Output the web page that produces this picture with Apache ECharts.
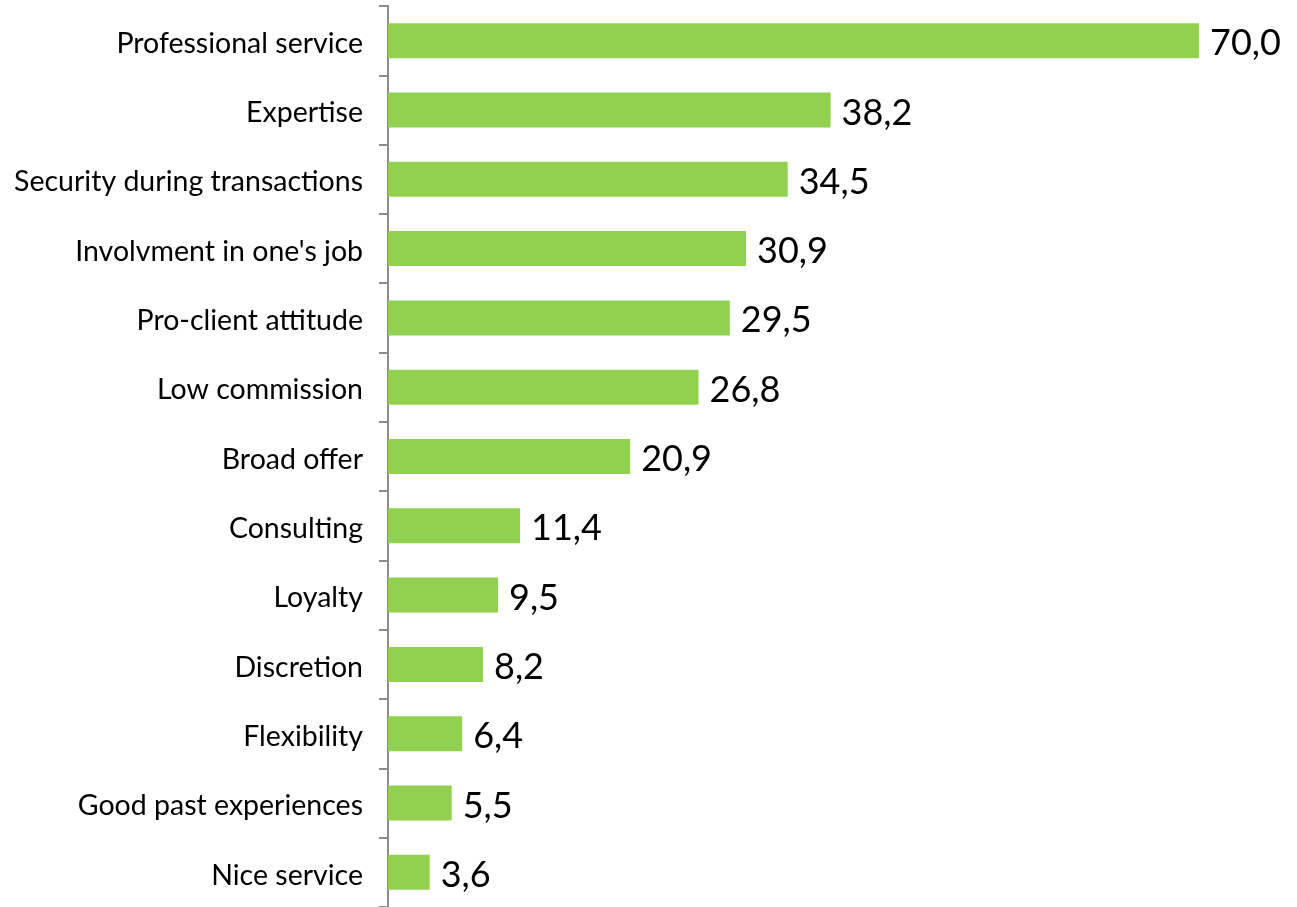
<!DOCTYPE html>
<html>
<head>
<meta charset="utf-8">
<style>
  html, body { margin: 0; padding: 0; background: #ffffff; }
  #chart { width: 1297px; height: 907px; }
</style>
<script src="https://cdn.jsdelivr.net/npm/echarts@6/dist/echarts.min.js"></script>
</head>
<body>
<div id="chart"></div>
<script>
// Attributes listed from top to bottom
const categories = [
  'Professional service',
  'Expertise',
  'Security during transactions',
  "Involvment in one's job",
  'Pro-client attitude',
  'Low commission',
  'Broad offer',
  'Consulting',
  'Loyalty',
  'Discretion',
  'Flexibility',
  'Good past experiences',
  'Nice service'
];
const values = [70.0, 38.2, 34.5, 30.9, 29.5, 26.8, 20.9, 11.4, 9.5, 8.2, 6.4, 5.5, 3.6];

const chart = echarts.init(document.getElementById('chart'), null, { renderer: 'canvas' });
const fontFamily = 'Lato, "Open Sans", sans-serif';

chart.setOption({
  animation: false,
  backgroundColor: '#ffffff',
  grid: { left: 388, right: 98, top: 6, bottom: 0, containLabel: false },
  xAxis: {
    type: 'value',
    min: 0,
    max: 70,
    show: false
  },
  yAxis: {
    type: 'category',
    data: categories,
    inverse: true,
    axisLine: { show: true, lineStyle: { color: '#8c8c8c', width: 2 } },
    axisTick: { show: true, length: 9, lineStyle: { color: '#8c8c8c', width: 2 } },
    axisLabel: {
      margin: 25,
      color: '#000000',
      fontSize: 28.5,
      fontFamily: fontFamily,
      verticalAlign: 'top',
      lineHeight: 6
    },
    splitLine: { show: false }
  },
  series: [{
    type: 'bar',
    data: values,
    barWidth: 35,
    itemStyle: { color: '#92d050' },
    label: {
      show: true,
      position: 'right',
      distance: 11,
      offset: [0, 3],
      color: '#000000',
      fontSize: 36,
      fontFamily: fontFamily,
      formatter: p => p.value.toFixed(1).replace('.', ',')
    }
  }]
});
</script>
</body>
</html>
